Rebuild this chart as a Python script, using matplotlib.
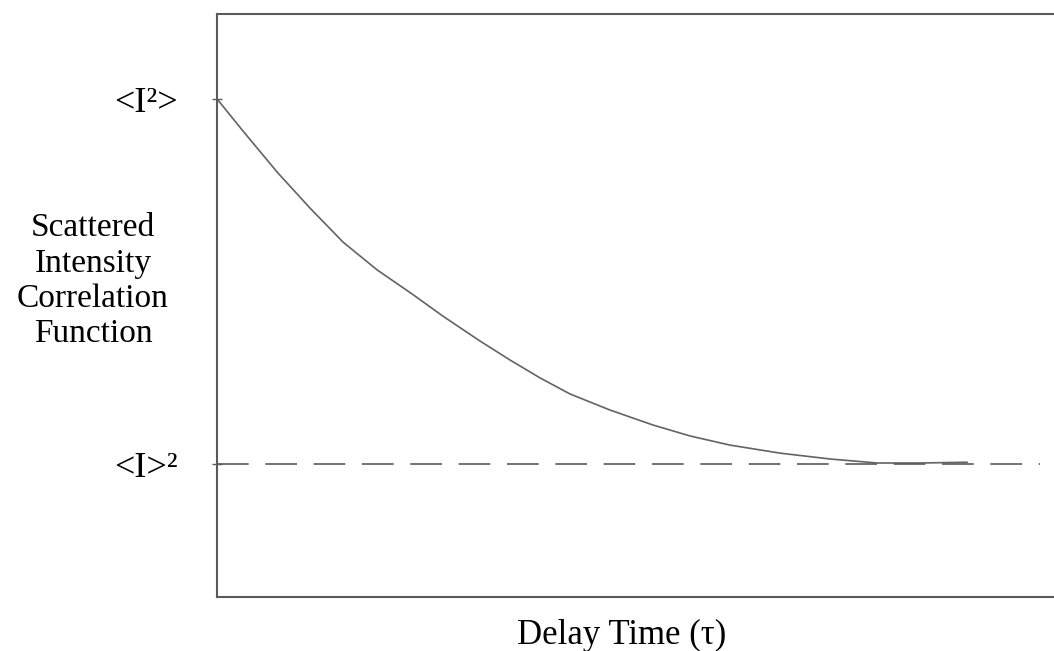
import numpy as np
import matplotlib
matplotlib.use("Agg")
import matplotlib.pyplot as plt

plt.rcParams['font.family'] = ['Liberation Serif', 'DejaVu Serif']

# delay time (arbitrary units) and intensity correlation, <I>^2 = 1, <I^2> = 2
tau = [0.00, 0.26, 0.60, 0.93, 1.26, 1.60, 1.95, 2.26, 2.63, 2.93, 3.23,
       3.53, 3.93, 4.36, 4.73, 5.13, 5.63, 6.13, 6.60, 7.03, 7.50]
g2 = [2.000, 1.912, 1.800, 1.701, 1.608, 1.532, 1.466, 1.405, 1.337, 1.285,
      1.236, 1.192, 1.148, 1.107, 1.077, 1.052, 1.030, 1.014, 1.003, 1.003,
      1.005]

baseline = 1.0
peak = 2.0
tick_values = [baseline, peak]
tick_labels = ['<I>²', '<I²>']

fig = plt.figure(figsize=(10.54, 6.51), dpi=100)
ax = fig.add_axes([0.206, 0.083, 0.794, 0.8955])

line_col = '#5a5a5a'

ax.plot(tau, g2, color='#636363', lw=1.2)
ax.axhline(baseline, xmin=0, xmax=(1040 - 217) / (1054 - 217),
           color=line_col, lw=1.2, dashes=(19, 10))

ax.set_xlim(0, 8.37)
ax.set_ylim(0.636, 2.233)

ax.spines['right'].set_visible(False)
for side in ['left', 'top', 'bottom']:
    ax.spines[side].set_color(line_col)
    ax.spines[side].set_linewidth(1.5)

ax.set_xticks([])
ax.set_yticks(tick_values)
ax.set_yticklabels(tick_labels, fontsize=26)
ax.tick_params(axis='y', direction='inout', length=7, width=1.0,
               color=line_col, pad=25)

fig.text(622 / 1054, 7 / 651, 'Delay Time (τ)', fontsize=25,
         ha='center', va='baseline')

fig.text(93 / 1054, 1 - 281 / 651,
         'Scattered\nIntensity\nCorrelation\nFunction', fontsize=24,
         ha='center', va='center', multialignment='center', linespacing=1.2)

fig.savefig('out.png', dpi=100)
